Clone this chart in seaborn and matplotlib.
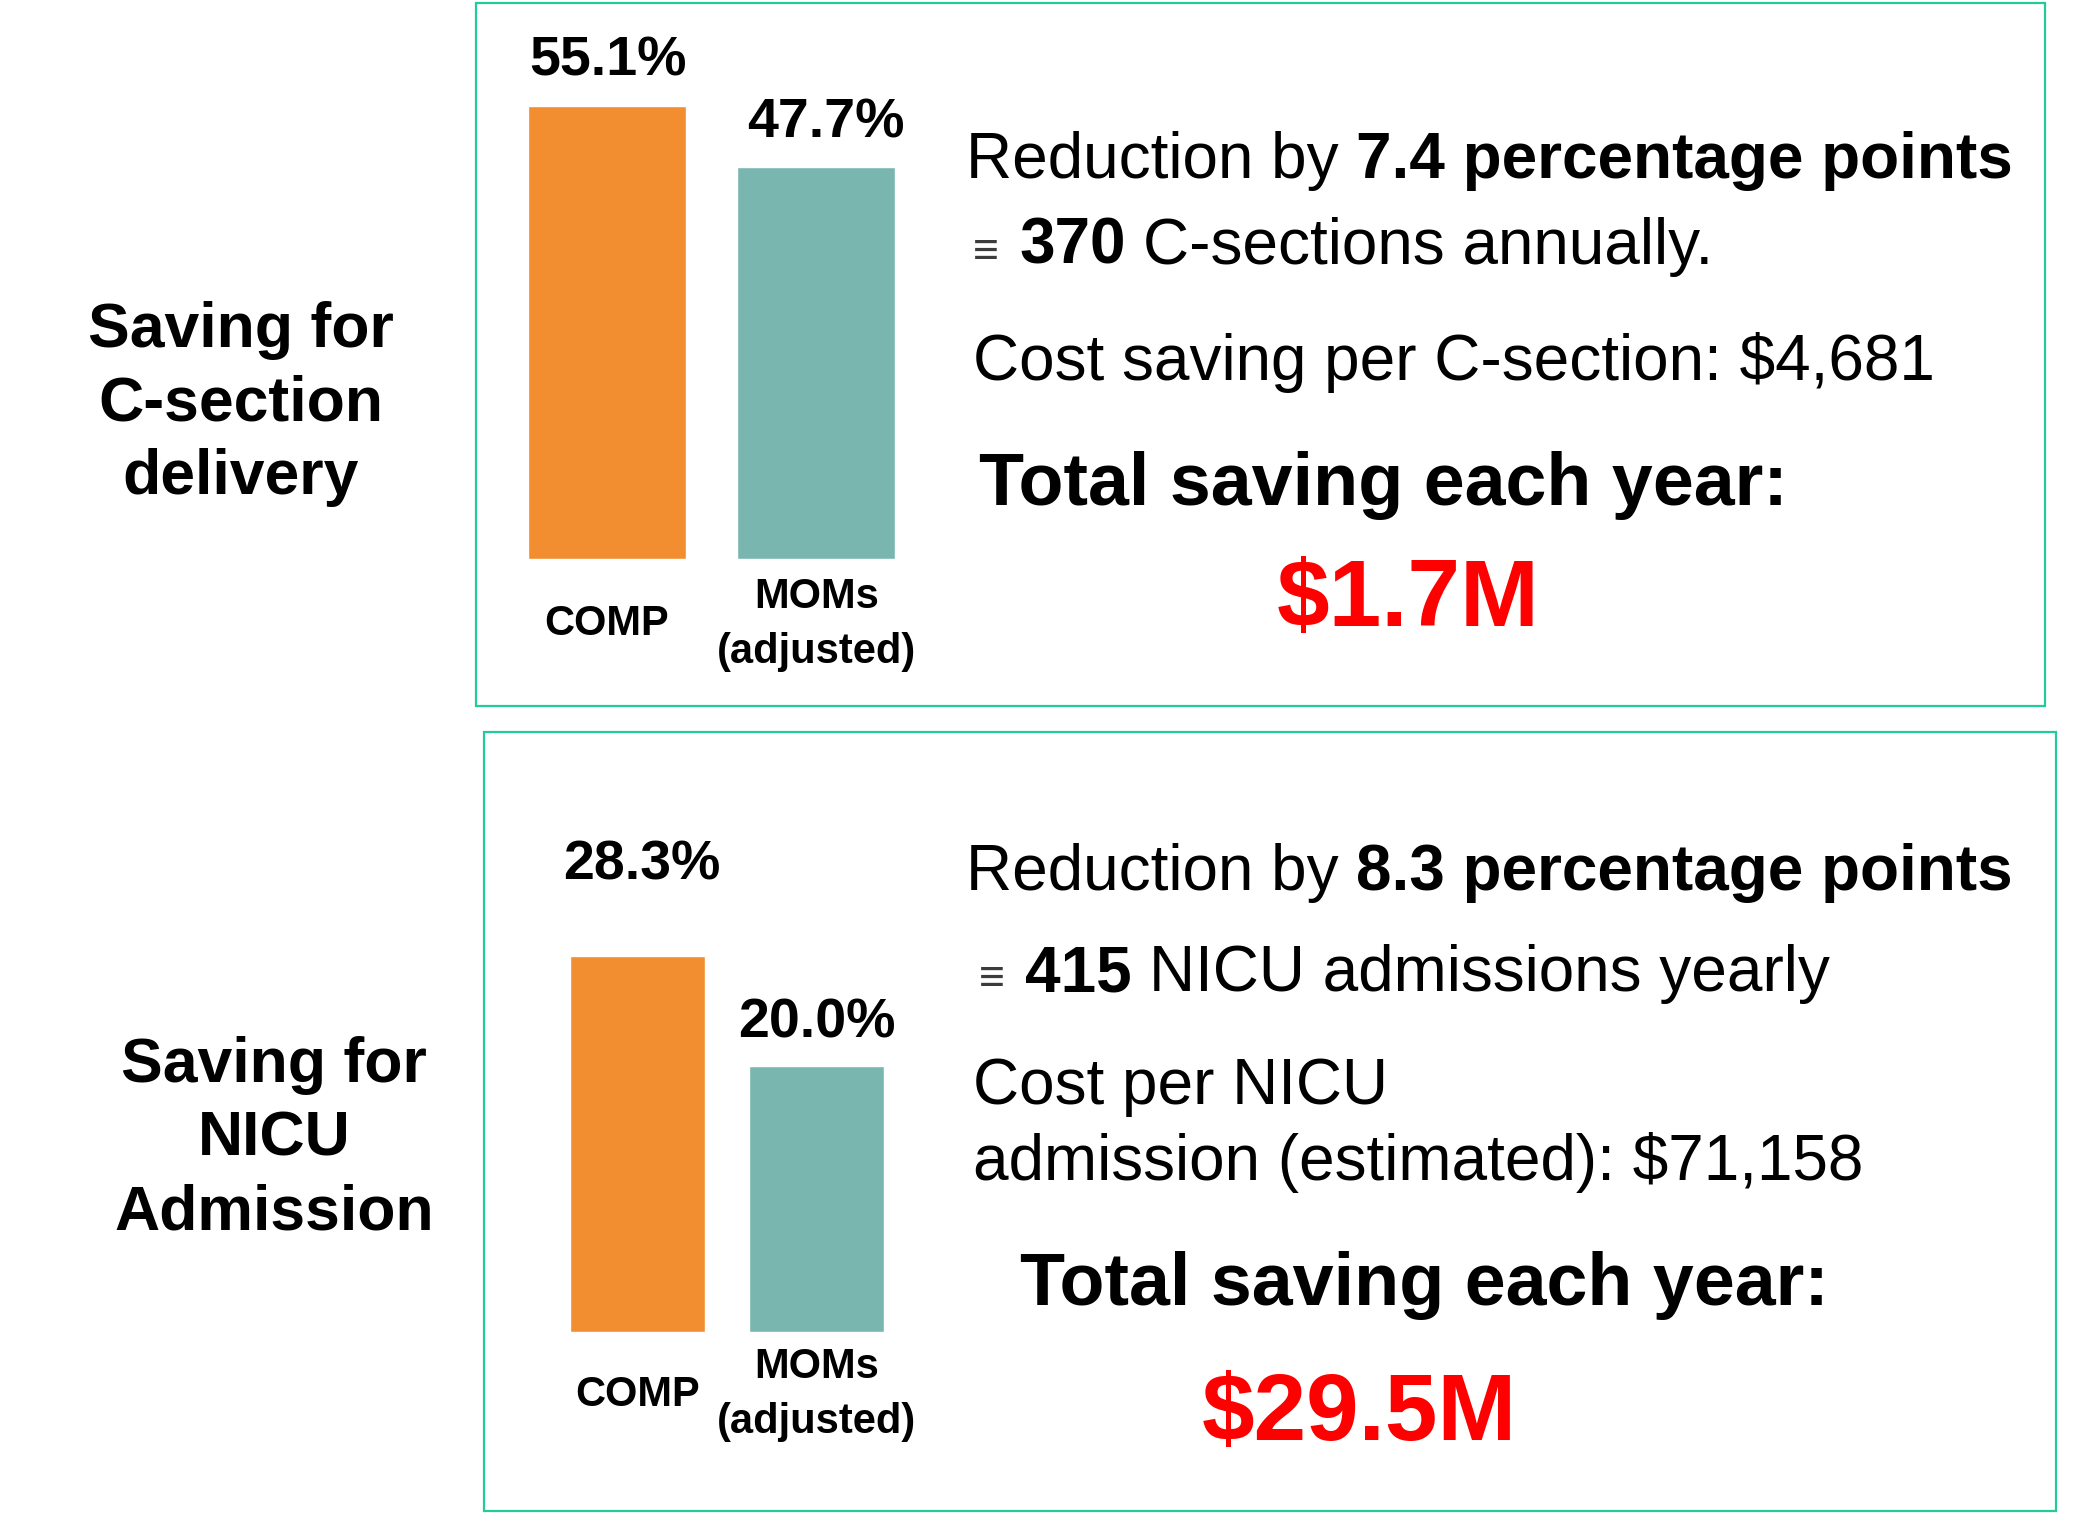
import matplotlib
matplotlib.use("Agg")
import matplotlib.pyplot as plt
import seaborn as sns
import pandas as pd
from matplotlib.patches import Rectangle

# data
categories = ["COMP", "MOMs\n(adjusted)"]
csection_rates = [55.1, 47.7]
nicu_rates = [28.3, 20.0]
bar_colors = ["#F28E2F", "#7AB6B0"]

csection_title = "Saving for\nC-section\ndelivery"
nicu_title = "Saving for\nNICU\nAdmission"
csection_saving = "$1.7M"
nicu_saving = "$29.5M"

sns.set_theme(style="white")
plt.rcParams["font.family"] = ["Liberation Sans", "DejaVu Sans"]
plt.rcParams["text.color"] = "black"

W, H = 2097, 1524
fig = plt.figure(figsize=(W / 100, H / 100), dpi=100)
fig.patch.set_facecolor("white")


def fx(x):
    return x / W


def fy(y):
    return 1 - y / H


# panel boxes
border = "#22CC9A"
for (x0, y0, x1, y1) in [(476, 3, 2045, 706), (484, 732, 2056, 1511)]:
    fig.add_artist(Rectangle((fx(x0), fy(y1)), (x1 - x0) / W, (y1 - y0) / H,
                             transform=fig.transFigure, fill=False,
                             edgecolor=border, lw=1.6))


def bar_panel(rect, values, ymax, offsets, tick_pad):
    ax = fig.add_axes(rect)
    df = pd.DataFrame({"group": categories, "rate": values})
    sns.barplot(data=df, x="group", y="rate", hue="group", palette=bar_colors,
                width=0.754, legend=False, ax=ax, saturation=1)
    ax.set_xlim(-0.5, 1.5)
    ax.set_ylim(0, ymax)
    ax.set_xlabel("")
    ax.set_ylabel("")
    ax.set_yticks([])
    ax.patch.set_alpha(0)
    sns.despine(ax=ax, left=True, bottom=True)
    ax.tick_params(axis="x", length=0, pad=tick_pad)
    for lbl in ax.get_xticklabels():
        lbl.set_fontsize(30)
        lbl.set_fontweight("bold")
        lbl.set_va("center")
        lbl.set_linespacing(1.5)
        lbl.set_color("black")
    for i, v in enumerate(values):
        ax.annotate(f"{v:.1f}%", xy=(i, v), xytext=offsets[i],
                    textcoords="offset pixels", ha="center", va="center",
                    fontsize=40, fontweight="bold", color="black")
    return ax


bar_panel([fx(502), fy(559), 419 / W, 493 / H], csection_rates, 60,
          [(1, 45), (10, 44)], 47)
bar_panel([fx(548), fy(1332), 358 / W, 465.5 / H], nicu_rates, 35,
          [(4, 90), (0, 43)], 45)

# left titles
fig.text(fx(241), fy(404), csection_title, ha="center", va="center",
         multialignment="center", fontsize=45, fontweight="bold",
         linespacing=1.32, color="black")
fig.text(fx(274), fy(1139), nicu_title, ha="center", va="center",
         multialignment="center", fontsize=45, fontweight="bold",
         linespacing=1.32, color="black")

renderer = fig.canvas.get_renderer()


def rich_line(x_px, y_px, segments):
    # segments: (text, size, weight, color, gap_before_px)
    x = x_px
    for text, size, weight, color, gap in segments:
        x += gap
        t = fig.text(fx(x), fy(y_px), text, fontsize=size, fontweight=weight,
                     color=color, ha="left", va="baseline")
        bb = t.get_window_extent(renderer)
        x = bb.x1


SP = 0.278 * 46 * 100 / 72
GREY = "#3C3C3C"

# top right text
rich_line(966, 178, [("Reduction by", 46, "normal", "black", 0),
                     ("7.4 percentage points", 46, "bold", "black", SP)])
rich_line(973, 264, [("\u2261", 32, "normal", GREY, 0),
                     ("370", 46, "bold", "black", 20),
                     ("C-sections annually.", 46, "normal", "black", SP)])
rich_line(973, 380, [("Cost saving per C-section: $4,681", 46, "normal", "black", 0)])
rich_line(979, 505, [("Total saving each year:", 53, "bold", "black", 0)])
rich_line(1277, 626, [(csection_saving, 68, "bold", "#FF0000", 0)])

# bottom right text
rich_line(966, 890, [("Reduction by", 46, "normal", "black", 0),
                     ("8.3 percentage points", 46, "bold", "black", SP)])
rich_line(979, 991, [("\u2261", 32, "normal", GREY, 0),
                     ("415", 46, "bold", "black", 20),
                     ("NICU admissions yearly", 46, "normal", "black", SP)])
rich_line(973, 1104, [("Cost per NICU", 46, "normal", "black", 0)])
rich_line(973, 1180, [("admission (estimated): $71,158", 46, "normal", "black", 0)])
rich_line(1020, 1305, [("Total saving each year:", 53, "bold", "black", 0)])
rich_line(1202, 1440, [(nicu_saving, 68, "bold", "#FF0000", 0)])

fig.savefig("out.png", dpi=100)
